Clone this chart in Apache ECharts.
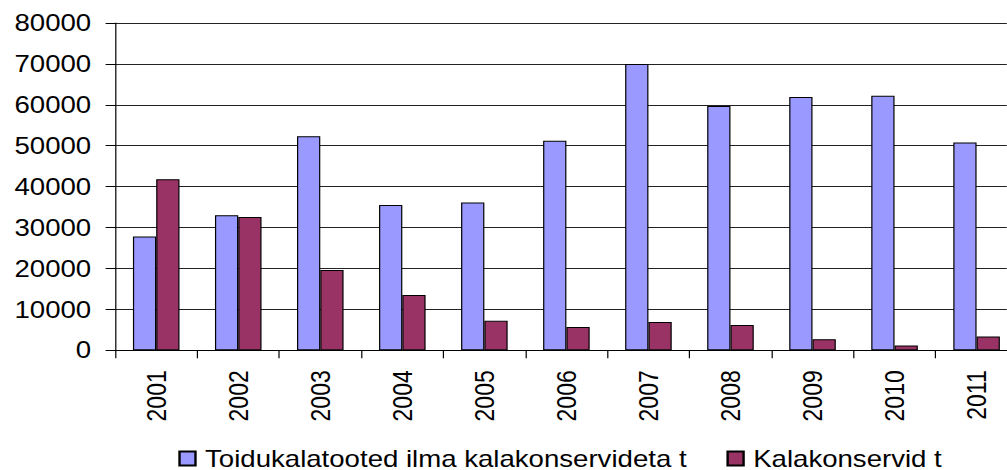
<!DOCTYPE html>
<html><head><meta charset="utf-8">
<script src="https://cdn.jsdelivr.net/npm/echarts@6/dist/echarts.min.js"></script>
<style>
html,body{margin:0;padding:0;background:#fff;overflow:hidden;width:1007px;height:470px;}
#c{width:839px;height:470px;transform:scaleX(1.2);transform-origin:0 0;}
</style></head><body><div id="c"></div>
<script>
const years = ['2001','2002','2003','2004','2005','2006','2007','2008','2009','2010','2011'];
const toidukalatooted = [27800, 33000, 52300, 35500, 36100, 51200, 70000, 59700, 61900, 62200, 50800];
const kalakonservid = [41800, 32600, 19600, 13500, 7200, 5700, 6900, 6200, 2700, 1200, 3400];
const seriesNames = ['Toidukalatooted ilma kalakonservideta t', 'Kalakonservid t'];
const yMin = 0, yMax = 80000, yStep = 10000;

const font = '"Liberation Sans", Arial, sans-serif';
const chart = echarts.init(document.getElementById('c'), null, {renderer: 'svg'});
chart.setOption({
  animation: false,
  backgroundColor: '#fff',
  textStyle: {fontFamily: font},
  grid: {left: 96, top: 23, width: 752, height: 327.3, containLabel: false, outerBoundsMode: 'none'},
  legend: {
    left: 148.6, top: 447, padding: 0,
    itemWidth: 13.3, itemHeight: 14, itemGap: 33,
    icon: 'rect',
    textStyle: {fontSize: 23, color: '#000', fontFamily: font, padding: [0, 0, 0, 3]},
    data: seriesNames
  },
  xAxis: {
    type: 'category',
    data: years,
    axisLine: {lineStyle: {color: '#000', width: 1}},
    axisTick: {show: true, length: 8, interval: 0, lineStyle: {color: '#000'}},
    axisLabel: {rotate: 90, interval: 0, margin: 20, fontSize: 23, color: '#000', fontFamily: font}
  },
  yAxis: {
    type: 'value',
    min: yMin, max: yMax, interval: yStep,
    axisLine: {show: true, lineStyle: {color: '#000', width: 1}},
    axisTick: {show: true, length: 8, lineStyle: {color: '#000'}},
    axisLabel: {margin: 20, fontSize: 23, color: '#000', fontFamily: font, formatter: v => String(v)},
    splitLine: {show: true, lineStyle: {color: '#222', width: 1}}
  },
  series: [
    {name: seriesNames[0], type: 'bar', data: toidukalatooted, barWidth: 19.4, barGap: '0%',
     itemStyle: {color: '#9999FF', borderColor: '#000', borderWidth: 1}},
    {name: seriesNames[1], type: 'bar', data: kalakonservid, barWidth: 19.4, barGap: '0%',
     itemStyle: {color: '#993366', borderColor: '#000', borderWidth: 1}}
  ]
});
</script></body></html>
